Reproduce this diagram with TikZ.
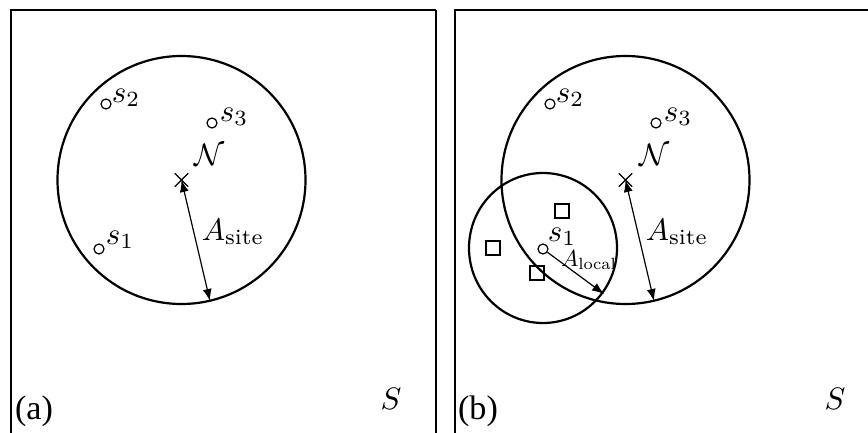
\documentclass[tikz,border=0pt]{standalone}
\usepackage{fontspec}
\newfontfamily\tagfont{Liberation Serif}
\usetikzlibrary{arrows.meta,shapes.misc}
\tikzset{
  >={Latex[length=6pt,width=4.5pt]},
  frame/.style={line width=0.8pt},
  zone/.style={line width=1.1pt},
  site/.style={circle,draw,line width=0.6pt,inner sep=0pt,minimum size=5pt},
  cand/.style={draw,line width=0.8pt,inner sep=0pt,minimum size=7pt},
  centre/.style={cross out,draw,line width=0.7pt,inner sep=0pt,minimum size=6pt},
  lbl/.style={inner sep=0pt,scale=1.55},
  radius/.style={line width=0.6pt},
}

\begin{document}
\begin{tikzpicture}[x=0.5pt,y=-0.5pt]
  \useasboundingbox (0,0) rectangle (868,433);
  % the two panels share the site zone and the three sites
  \foreach \dx/\p in {0/a,444/b}{
    \begin{scope}[xshift=\dx*0.5pt]
      \draw[frame] (11,433) -- (11,10) -- (436,10);
      \draw[zone] (181.5,180) circle (124);
      \node[centre] (N\p) at (181.5,180) {};
      \coordinate (E\p) at (210,301);
      \draw[radius,<->] (N\p.center) -- (E\p);
      \node[site] (s1\p) at (99,249) {};
      \node[site] (s2\p) at (106,104) {};
      \node[site] (s3\p) at (212,123) {};
      \node[lbl] at (126,98) {$s_2$};
      \node[lbl] at (234,117) {$s_3$};
      \node[lbl] at (210,155) {$\mathcal{N}$};
      \node[lbl] at (233,232) {$A_{\mathrm{site}}$};
      \node[lbl] at (391,399) {$S$};
      \node[lbl,scale=1.1,font=\tagfont] at (34,411) {(\p)};
    \end{scope}
  }
  \draw[frame] (436,10) -- (436,433);
  \node[lbl] at (120,240) {$s_1$};
  \node[lbl] at (562,237) {$s_1$};
  % local zone round s1 in panel (b)
  \draw[zone] (543,248) ellipse (74 and 75);
  \node[cand] (c1) at (562,211) {};
  \node[cand] (c2) at (493,248) {};
  \node[cand] (c3) at (537,273) {};
  \coordinate (El) at (604,294);
  \draw[radius,->] (s1b) -- (El);
  \node[lbl,scale=0.75] at (589,260) {$A_{\mathrm{local}}$};
\end{tikzpicture}
\end{document}
